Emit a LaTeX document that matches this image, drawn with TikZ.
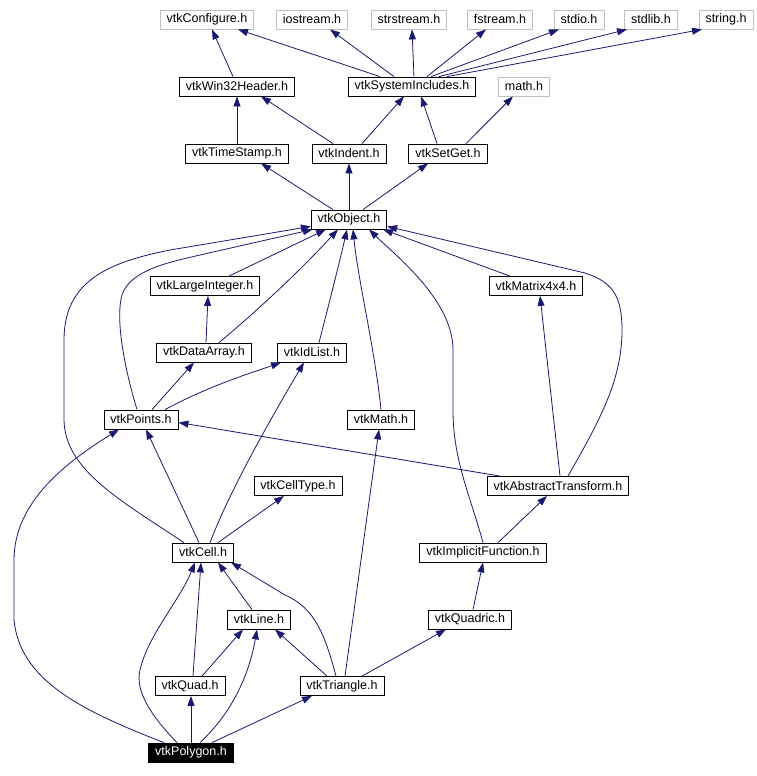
\documentclass[tikz,border=0pt]{standalone}
\usepackage{fontspec}
\setmainfont{Liberation Sans}
\usetikzlibrary{arrows.meta}
\definecolor{edgec}{HTML}{191970}
\definecolor{grayb}{HTML}{BFBFBF}
\begin{document}
\begin{tikzpicture}[x=1pt,y=-1pt,
 box/.style={draw=black,line width=0.8pt,fill=white,minimum height=19pt,inner xsep=6.5pt,inner ysep=0pt,font=\fontsize{12.5}{14}\selectfont},
 sysbox/.style={box,draw=grayb},
 curbox/.style={box,fill=black,text=white},
 edge/.style={draw=edgec,line width=0.8pt,-{Triangle[length=10pt,width=7pt]}}]
\useasboundingbox (0,0) rectangle (757,776);
% row 1
\node[sysbox] (cfg) at (207,19.5) {vtkConfigure.h};
\node[sysbox] (ios) at (312,19.5) {iostream.h};
\node[sysbox] (strs) at (409,19.5) {strstream.h};
\node[sysbox] (fstr) at (500,19.5) {fstream.h};
\node[sysbox] (stdio) at (579,19.5) {stdio.h};
\node[sysbox] (stdlib) at (651,19.5) {stdlib.h};
\node[sysbox] (string) at (726,19.5) {string.h};
% row 2
\node[box] (win32) at (237,86.5) {vtkWin32Header.h};
\node[box] (sysinc) at (412,86.5) {vtkSystemIncludes.h};
\node[sysbox] (math) at (524,86.5) {math.h};
% row 3
\node[box] (tstamp) at (237,153.5) {vtkTimeStamp.h};
\node[box] (indent) at (349,153.5) {vtkIndent.h};
\node[box] (setget) at (448,153.5) {vtkSetGet.h};
% row 4
\node[box] (object) at (349,219.5) {vtkObject.h};
% row 5
\node[box] (largeint) at (205,286) {vtkLargeInteger.h};
\node[box] (matrix) at (536,286) {vtkMatrix4x4.h};
% row 6
\node[box] (dataarray) at (204,352.5) {vtkDataArray.h};
\node[box] (idlist) at (312,352.5) {vtkIdList.h};
% row 7
\node[box] (points) at (141,419.5) {vtkPoints.h};
\node[box] (vmath) at (381,419.5) {vtkMath.h};
% row 8
\node[box] (celltype) at (298,486) {vtkCellType.h};
\node[box] (abstr) at (558,486) {vtkAbstractTransform.h};
% row 9
\node[box] (cell) at (203,552.5) {vtkCell.h};
\node[box] (implicit) at (483,552.5) {vtkImplicitFunction.h};
% row 10
\node[box] (line) at (259,619.5) {vtkLine.h};
\node[box] (quadric) at (470,619.5) {vtkQuadric.h};
% row 11
\node[box] (quad) at (190,686) {vtkQuad.h};
\node[box] (triangle) at (342,686) {vtkTriangle.h};
% row 12
\node[curbox] (polygon) at (191,752.5) {vtkPolygon.h};

% edges rows 1-2
\draw[edge] ([xshift=-4pt]win32.north) -- ([xshift=5pt]cfg.south);
\draw[edge] ([xshift=-32pt]sysinc.north) -- ([xshift=31pt]cfg.south);
\draw[edge] ([xshift=-18pt]sysinc.north) -- ([xshift=18pt]ios.south);
\draw[edge] ([xshift=2pt]sysinc.north) -- ([xshift=3pt]strs.south);
\draw[edge] ([xshift=15pt]sysinc.north) -- ([xshift=-14pt]fstr.south);
\draw[edge] ([xshift=19pt]sysinc.north) -- ([xshift=-20pt]stdio.south);
\draw[edge] ([xshift=27pt]sysinc.north) -- ([xshift=-24pt]stdlib.south);
\draw[edge] ([xshift=35pt]sysinc.north) -- ([xshift=-24pt]string.south);
% rows 2-3
\draw[edge] (tstamp.north) -- (win32.south);
\draw[edge] ([xshift=-16pt]indent.north) -- ([xshift=24pt]win32.south);
\draw[edge] ([xshift=13pt]indent.north) -- ([xshift=-8pt]sysinc.south);
\draw[edge] ([xshift=-11pt]setget.north) -- ([xshift=9pt]sysinc.south);
\draw[edge] ([xshift=18pt]setget.north) -- ([xshift=-11pt]math.south);
% rows 3-4
\draw[edge] ([xshift=-16pt]object.north) -- ([xshift=24pt]tstamp.south);
\draw[edge] (object.north) -- (indent.south);
\draw[edge] ([xshift=14pt]object.north) -- ([xshift=-20pt]setget.south);
% into object
\draw[edge] ([xshift=24pt]largeint.north) -- ([xshift=-23pt]object.south);
\draw[edge] ([xshift=15pt]dataarray.north) .. controls (270,300) and (310,260) .. ([xshift=-11pt]object.south);
\draw[edge] ([xshift=7pt]idlist.north) .. controls (330,300) and (340,260) .. ([xshift=-2pt]object.south);
\draw[edge] (vmath.north) .. controls (375,350) and (358,280) .. ([xshift=4pt]object.south);
\draw[edge] (implicit.north) .. controls (470,495) and (453,460) .. (453,410) -- (453,350) .. controls (453,300) and (395,255) .. ([xshift=20pt]object.south);
\draw[edge] ([xshift=-26pt]matrix.north) -- ([xshift=34pt]object.south);
\draw[edge] ([xshift=10pt]abstr.north) .. controls (600,420) and (622,380) .. (622,330) .. controls (622,295) and (612,282) .. (585,273) -- ([yshift=3pt]object.south east);
\draw[edge] ([xshift=-19pt]cell.north) .. controls (120,500) and (65,470) .. (64,420) -- (64,340) .. controls (64,280) and (110,262) .. (170,250) -- ([yshift=3pt]object.south west);
\draw[edge] ([xshift=-4pt]points.north) .. controls (125,370) and (115,320) .. (122,295) .. controls (130,270) and (170,262) .. (200,255) -- ([xshift=2pt]object.south west);
% middle
\draw[edge] ([xshift=-4pt]cell.north) -- ([xshift=5pt]points.south);
\draw[edge] ([xshift=7pt]cell.north) .. controls (230,490) and (270,420) .. ([xshift=-8pt]idlist.south);
\draw[edge] ([xshift=15pt]cell.north) -- ([xshift=-14pt]celltype.south);
\draw[edge] ([xshift=11pt]points.north) -- ([xshift=-10pt]dataarray.south);
\draw[edge] ([xshift=24pt]points.north) .. controls (210,385) and (260,370) .. ([xshift=-31pt]idlist.south);
\draw[edge] ([xshift=2pt]dataarray.north) -- ([xshift=3pt]largeint.south);
\draw[edge] ([xshift=2pt]abstr.north) -- ([xshift=4pt]matrix.south);
\draw[edge] ([xshift=-58pt]abstr.north) -- ([yshift=-3pt]points.east);
\draw[edge] ([xshift=15pt]implicit.north) -- ([xshift=-11pt]abstr.south);
\draw[edge] ([xshift=3pt]quadric.north) -- (implicit.south);
% lower
\draw[edge] ([xshift=20pt]triangle.north) -- ([xshift=-24pt]quadric.south);
\draw[edge] ([xshift=3pt]triangle.north) -- ([xshift=-2pt]vmath.south);
\draw[edge] ([xshift=-15pt]triangle.north) -- ([xshift=16pt]line.south);
\draw[edge] ([xshift=-6pt]triangle.north) .. controls (325,635) and (315,608) .. (285,595) -- ([xshift=28pt]cell.south);
\draw[edge] ([xshift=-7pt]line.north) -- ([xshift=15pt]cell.south);
\draw[edge] ([xshift=3pt]quad.north) -- ([xshift=-2pt]cell.south);
\draw[edge] ([xshift=12pt]quad.north) -- ([xshift=-16pt]line.south);
\draw[edge] (polygon.north) -- (polygon.north |- quad.south);
\draw[edge] ([xshift=9pt]polygon.north) .. controls (235,710) and (250,670) .. ([xshift=-2pt]line.south);
\draw[edge] ([xshift=21pt]polygon.north) -- ([xshift=-30pt]triangle.south);
\draw[edge] ([xshift=-14pt]polygon.north) .. controls (150,715) and (135,690) .. (140,670) .. controls (148,635) and (180,600) .. ([xshift=-8pt]cell.south);
\draw[edge] ([xshift=-27pt]polygon.north) .. controls (80,710) and (20,680) .. (14,620) -- (14,560) .. controls (14,500) and (70,460) .. ([xshift=-22pt]points.south);
\end{tikzpicture}
\end{document}
